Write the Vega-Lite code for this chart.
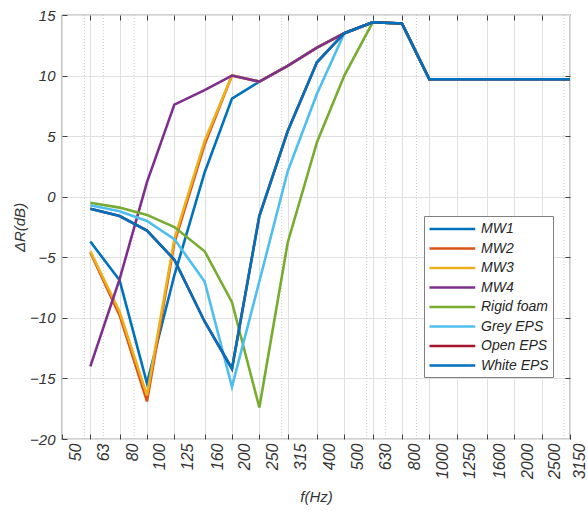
{
  "$schema": "https://vega.github.io/schema/vega-lite/v6.json",
  "width": 508,
  "height": 424,
  "autosize": "none",
  "padding": {"left": 62, "top": 15, "right": 18, "bottom": 74},
  "config": {
    "view": {"stroke": "#404040", "strokeWidth": 1.2},
    "font": "Liberation Sans"
  },
  "datasets": {
    "bands": [
      {"f": 63, "MW1": -3.7, "MW2": -4.6, "MW3": -4.5, "MW4": -14.0, "Rigid foam": -0.5, "Grey EPS": -0.7, "Open EPS": -1.0, "White EPS": -1.0},
      {"f": 80, "MW1": -6.9, "MW2": -9.8, "MW3": -9.5, "MW4": -6.8, "Rigid foam": -0.9, "Grey EPS": -1.2, "Open EPS": -1.6, "White EPS": -1.6},
      {"f": 100, "MW1": -15.4, "MW2": -16.9, "MW3": -16.4, "MW4": 1.2, "Rigid foam": -1.5, "Grey EPS": -2.0, "Open EPS": -2.8, "White EPS": -2.8},
      {"f": 125, "MW1": -6.5, "MW2": -3.8, "MW3": -3.5, "MW4": 7.6, "Rigid foam": -2.5, "Grey EPS": -3.5, "Open EPS": -5.2, "White EPS": -5.2},
      {"f": 160, "MW1": 2.0, "MW2": 4.3, "MW3": 4.6, "MW4": 8.8, "Rigid foam": -4.5, "Grey EPS": -7.0, "Open EPS": -10.3, "White EPS": -10.3},
      {"f": 200, "MW1": 8.1, "MW2": 10.0, "MW3": 10.0, "MW4": 10.0, "Rigid foam": -8.7, "Grey EPS": -15.7, "Open EPS": -14.2, "White EPS": -14.2},
      {"f": 250, "MW1": 9.5, "MW2": 9.5, "MW3": 9.5, "MW4": 9.5, "Rigid foam": -17.4, "Grey EPS": -7.0, "Open EPS": -1.6, "White EPS": -1.6},
      {"f": 315, "MW1": 10.8, "MW2": 10.8, "MW3": 10.8, "MW4": 10.8, "Rigid foam": -3.8, "Grey EPS": 2.1, "Open EPS": 5.4, "White EPS": 5.4},
      {"f": 400, "MW1": 12.3, "MW2": 12.3, "MW3": 12.3, "MW4": 12.3, "Rigid foam": 4.5, "Grey EPS": 8.5, "Open EPS": 11.1, "White EPS": 11.1},
      {"f": 500, "MW1": 13.5, "MW2": 13.5, "MW3": 13.5, "MW4": 13.5, "Rigid foam": 10.0, "Grey EPS": 13.5, "Open EPS": 13.5, "White EPS": 13.5},
      {"f": 630, "MW1": 14.4, "MW2": 14.4, "MW3": 14.4, "MW4": 14.4, "Rigid foam": 14.4, "Grey EPS": 14.4, "Open EPS": 14.4, "White EPS": 14.4},
      {"f": 800, "MW1": 14.3, "MW2": 14.3, "MW3": 14.3, "MW4": 14.3, "Rigid foam": 14.3, "Grey EPS": 14.3, "Open EPS": 14.3, "White EPS": 14.3},
      {"f": 1000, "MW1": 9.7, "MW2": 9.7, "MW3": 9.7, "MW4": 9.7, "Rigid foam": 9.7, "Grey EPS": 9.7, "Open EPS": 9.7, "White EPS": 9.7},
      {"f": 1250, "MW1": 9.7, "MW2": 9.7, "MW3": 9.7, "MW4": 9.7, "Rigid foam": 9.7, "Grey EPS": 9.7, "Open EPS": 9.7, "White EPS": 9.7},
      {"f": 1600, "MW1": 9.7, "MW2": 9.7, "MW3": 9.7, "MW4": 9.7, "Rigid foam": 9.7, "Grey EPS": 9.7, "Open EPS": 9.7, "White EPS": 9.7},
      {"f": 2000, "MW1": 9.7, "MW2": 9.7, "MW3": 9.7, "MW4": 9.7, "Rigid foam": 9.7, "Grey EPS": 9.7, "Open EPS": 9.7, "White EPS": 9.7},
      {"f": 2500, "MW1": 9.7, "MW2": 9.7, "MW3": 9.7, "MW4": 9.7, "Rigid foam": 9.7, "Grey EPS": 9.7, "Open EPS": 9.7, "White EPS": 9.7},
      {"f": 3150, "MW1": 9.7, "MW2": 9.7, "MW3": 9.7, "MW4": 9.7, "Rigid foam": 9.7, "Grey EPS": 9.7, "Open EPS": 9.7, "White EPS": 9.7}
    ],
    "minor": [{"f": 60}, {"f": 70}, {"f": 90}, {"f": 300}, {"f": 600}, {"f": 700}, {"f": 900}, {"f": 3000}]
  },
  "layer": [
    {
      "data": {"name": "minor"},
      "mark": {"type": "rule", "strokeDash": [1, 2], "color": "#c8c8c8", "strokeWidth": 1},
      "encoding": {
        "x": {"field": "f", "type": "quantitative", "scale": {"type": "log", "domain": [50, 3150], "nice": false}, "axis": null}
      }
    },
    {
      "data": {"name": "bands"},
      "transform": [
        {"fold": ["MW1", "MW2", "MW3", "MW4", "Rigid foam", "Grey EPS", "Open EPS", "White EPS"], "as": ["series", "dR"]}
      ],
      "mark": {"type": "line", "strokeWidth": 2.6, "clip": true},
      "encoding": {
        "x": {
          "field": "f", "type": "quantitative",
          "scale": {"type": "log", "domain": [50, 3150], "nice": false},
          "axis": {
            "orient": "bottom",
            "values": [50, 63, 80, 100, 125, 160, 200, 250, 315, 400, 500, 630, 800, 1000, 1250, 1600, 2000, 2500, 3150],
            "format": "d",
            "labelAngle": 270,
            "labelOffset": {"condition": {"test": "datum.value == 3150", "value": 9}, "value": 13},
            "labelPadding": 9,
            "labelOverlap": false,
            "labelFlush": false,
            "labelBound": false,
            "labelFont": "Liberation Sans",
            "labelFontStyle": "italic",
            "labelFontSize": 16,
            "labelColor": "#333333",
            "grid": true,
            "gridColor": "#e0e0e0",
            "gridWidth": 1,
            "domain": false,
            "ticks": true,
            "tickSize": -5,
            "tickColor": "#404040",
            "title": "f(Hz)",
            "titleFont": "Liberation Sans",
            "titleFontStyle": "italic",
            "titleFontWeight": "normal",
            "titleFontSize": 15,
            "titleColor": "#333333",
            "titleBaseline": "top",
            "titleY": 50
          }
        },
        "y": {
          "field": "dR", "type": "quantitative",
          "scale": {"domain": [-20, 15], "nice": false, "zero": false},
          "axis": {
            "orient": "left",
            "values": [-20, -15, -10, -5, 0, 5, 10, 15],
            "labelPadding": 12,
            "labelFont": "Liberation Sans",
            "labelFontStyle": "italic",
            "labelFontSize": 15,
            "labelColor": "#333333",
            "grid": true,
            "gridColor": "#e0e0e0",
            "domain": false,
            "tickSize": -5,
            "tickColor": "#404040",
            "title": "ΔR(dB)",
            "titleFont": "Liberation Sans",
            "titleFontStyle": "italic",
            "titleFontWeight": "normal",
            "titleFontSize": 15,
            "titleColor": "#333333",
            "titleX": -35
          }
        },
        "color": {
          "field": "series", "type": "nominal",
          "scale": {
            "domain": ["MW1", "MW2", "MW3", "MW4", "Rigid foam", "Grey EPS", "Open EPS", "White EPS"],
            "range": ["#0072BD", "#D95319", "#EDB120", "#7E2F8E", "#77AC30", "#4DBEEE", "#A2142F", "#0072BD"]
          },
          "legend": {
            "orient": "none",
            "legendX": 362,
            "legendY": 201,
            "title": null,
            "symbolType": "M-1,0H5.1",
            "symbolSize": 225,
            "symbolStrokeWidth": 2.7,
            "labelFont": "Liberation Sans",
            "labelFontStyle": "italic",
            "labelFontSize": 14,
            "labelColor": "#262626",
            "labelOffset": 35,
            "strokeColor": "#808080",
            "fillColor": "white",
            "padding": 4,
            "rowPadding": 3.5
          }
        }
      }
    },
    {
      "data": {"name": "minor"},
      "mark": {"type": "point", "opacity": 0},
      "encoding": {
        "x": {
          "field": "f", "type": "quantitative",
          "scale": {"type": "log", "domain": [50, 3150], "nice": false},
          "axis": {"orient": "top", "values": [63, 80, 100, 125, 160, 200, 250, 315, 400, 500, 630, 800, 1000, 1250, 1600, 2000, 2500], "labels": false, "grid": false, "domain": false, "tickSize": -5, "tickColor": "#404040", "title": null}
        },
        "y": {
          "datum": 0, "type": "quantitative",
          "scale": {"domain": [-20, 15], "nice": false, "zero": false},
          "axis": {"orient": "right", "values": [-15, -10, -5, 0, 5, 10], "labels": false, "grid": false, "domain": false, "tickSize": -5, "tickColor": "#404040", "title": null}
        }
      }
    }
  ],
  "resolve": {"axis": {"x": "independent", "y": "independent"}}
}
